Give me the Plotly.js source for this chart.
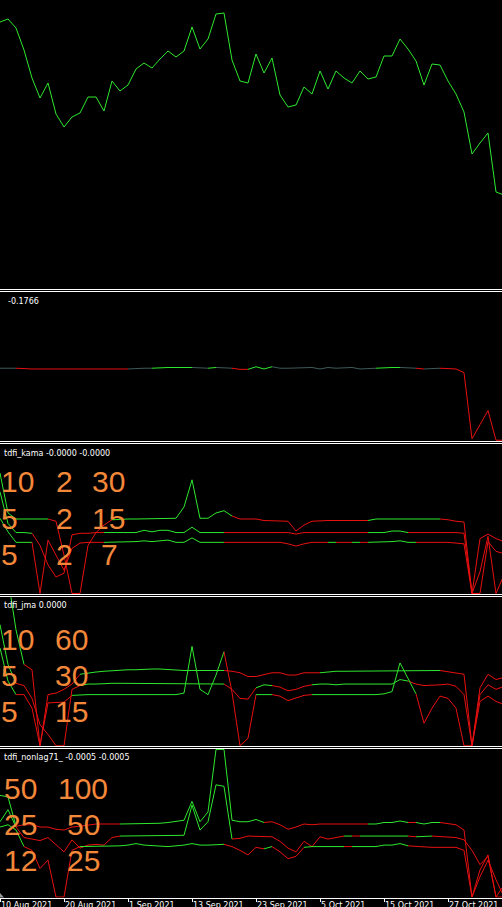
<!DOCTYPE html>
<html><head><meta charset="utf-8">
<script src="https://cdn.plot.ly/plotly-3.0.1.min.js"></script>
<style>html,body{margin:0;padding:0;background:#000;overflow:hidden}#chart{width:502px;height:907px}</style>
</head><body><div id="chart"></div>
<script>
// ---------- data ----------
const dateLabels = ["10 Aug 2021","20 Aug 2021","1 Sep 2021","13 Sep 2021","23 Sep 2021","5 Oct 2021","15 Oct 2021","27 Oct 2021"];
const dateBars = [0,8,16,24,32,40,48,56];

const price = [1.1778,1.1781,1.1772,1.1750,1.1722,1.1702,1.1717,1.1686,1.1673,1.1683,
  1.1687,1.1703,1.1703,1.1689,1.1719,1.1709,1.1715,1.1731,1.1737,1.1732,
  1.1741,1.1749,1.1743,1.1749,1.1773,1.1751,1.1761,1.1786,1.1787,1.1740,
  1.1719,1.1717,1.1746,1.1727,1.1742,1.1705,1.1693,1.1695,1.1713,1.1706,
  1.1729,1.1711,1.1729,1.1722,1.1717,1.1729,1.1721,1.1723,1.1744,1.1744,
  1.1761,1.1751,1.1739,1.1715,1.1736,1.1735,1.1719,1.1706,1.1688,1.1646,
  1.1657,1.1667,1.1608,1.1605];

const tdfi = [-0.02,-0.02,-0.02,-0.03,-0.03,-0.03,-0.03,-0.03,-0.03,-0.03,
  -0.03,-0.03,-0.03,-0.03,-0.03,-0.03,-0.03,-0.02,-0.02,-0.02,
  -0.01,-0.01,-0.01,-0.01,-0.01,-0.02,-0.02,-0.01,-0.02,-0.02,
  -0.035,-0.035,0.0,-0.03,0.0,-0.02,-0.02,-0.02,-0.02,-0.01,
  -0.03,-0.01,-0.02,-0.02,-0.01,-0.03,-0.02,-0.02,-0.01,-0.01,
  -0.01,-0.02,-0.02,-0.03,-0.02,-0.02,-0.03,-0.03,-0.08,-0.97,
  -0.78,-0.59,-0.99,-0.99];
const tdfiRuns = [[0,'n'],[3,'r'],[17,'n'],[20,'g'],[25,'n'],[27,'g'],[28,'n'],[30,'r'],[32,'g'],[35,'n'],[48,'g'],[51,'n'],[53,'r'],[54,'n'],[56,'r']];

const kamaA = [0.61,0.08,0,0,0,0,0,-0.03,-0.48,-0.99,
  -0.99,-0.35,-0.18,-0.08,-0.01,0,0,0,0,0,
  0,0.01,0.01,0.16,0.52,0.01,0.01,0.08,0.11,0.04,
  0,0,0,-0.02,-0.02,-0.02,-0.03,-0.16,-0.08,-0.03,
  -0.02,-0.02,-0.02,-0.02,-0.02,-0.02,-0.02,0,0,0,
  0,0,0,0,0,0,-0.01,-0.03,-0.04,-0.99,
  -0.26,-0.20,-0.26,-0.30];
const kamaB = [0.36,-0.06,-0.18,-0.18,-0.19,-0.35,-0.61,-0.77,-0.72,-0.21,
  -0.19,-0.19,-0.18,-0.18,-0.18,-0.18,-0.18,-0.18,-0.15,-0.17,
  -0.15,-0.15,-0.18,-0.18,-0.11,-0.18,-0.18,-0.18,-0.18,-0.18,
  -0.18,-0.18,-0.18,-0.18,-0.18,-0.18,-0.18,-0.20,-0.18,-0.18,
  -0.18,-0.18,-0.18,-0.18,-0.18,-0.18,-0.18,-0.18,-0.18,-0.16,
  -0.16,-0.18,-0.18,-0.18,-0.18,-0.18,-0.18,-0.18,-0.19,-0.99,
  -0.99,-0.30,-0.43,-0.46];
const kamaC = [0.01,-0.17,-0.31,-0.31,-0.31,-0.99,-0.28,-0.48,-0.68,-0.39,
  -0.32,-0.31,-0.31,-0.31,-0.31,-0.31,-0.31,-0.30,-0.29,-0.30,
  -0.29,-0.28,-0.31,-0.31,-0.25,-0.31,-0.31,-0.31,-0.31,-0.31,
  -0.31,-0.31,-0.31,-0.31,-0.31,-0.31,-0.33,-0.36,-0.33,-0.31,
  -0.31,-0.31,-0.31,-0.31,-0.31,-0.31,-0.31,-0.31,-0.31,-0.30,
  -0.29,-0.31,-0.31,-0.31,-0.31,-0.31,-0.31,-0.32,-0.33,-0.99,
  -0.70,-0.23,-0.99,-0.74];
const kamaARuns = [[0,'g'],[7,'r'],[15,'g'],[30,'r'],[47,'g'],[56,'r']];
const kamaBRuns = [[0,'g'],[5,'r'],[14,'g'],[29,'r'],[47,'g'],[52,'r']];
const kamaCRuns = [[0,'g'],[5,'r'],[14,'g'],[29,'r'],[42,'g'],[43,'r'],[45,'g'],[46,'r'],[47,'g'],[53,'r']];

const jmaA = [1.65,1.25,0.56,0.10,0.03,-0.98,-0.30,-0.28,-0.23,-0.16,
  -0.03,-0.01,0,0.01,0.02,0.02,0.03,0.03,0.04,0.04,
  0.04,0.03,0.03,0.02,0.02,0.02,0.02,0.02,0.02,0.01,
  -0.01,-0.06,-0.06,-0.04,-0.01,-0.01,-0.04,-0.04,-0.01,-0.01,
  -0.01,0,0.01,0.01,0.01,0.01,0.01,0.02,0.02,0.02,
  0.02,0.02,0.02,0.02,0.02,0.02,0,-0.01,-0.03,-0.98,
  -0.21,-0.03,-0.10,-0.07];
const jmaB = [0.63,0.10,-0.15,-0.18,-0.35,-0.70,-0.83,-0.98,-0.98,-0.23,
  -0.18,-0.16,-0.16,-0.15,-0.15,-0.15,-0.15,-0.15,-0.15,-0.15,
  -0.16,-0.16,-0.16,-0.16,-0.16,-0.16,-0.16,-0.16,-0.16,-0.23,
  -0.35,-0.36,-0.21,-0.17,-0.18,-0.20,-0.25,-0.23,-0.19,-0.17,
  -0.16,-0.16,-0.17,-0.16,-0.16,-0.16,-0.16,-0.16,-0.16,-0.16,
  -0.10,-0.12,-0.16,-0.18,-0.18,-0.17,-0.16,-0.19,-0.30,-0.98,
  -0.30,-0.17,-0.23,-0.19];
const jmaC = [0.32,-0.12,-0.30,-0.30,-0.48,-0.98,-0.41,-0.41,-0.40,-0.31,
  -0.30,-0.30,-0.30,-0.30,-0.30,-0.30,-0.30,-0.30,-0.30,-0.30,
  -0.30,-0.30,-0.30,-0.28,0.34,-0.23,-0.30,-0.04,0.27,-0.27,
  -0.98,-0.88,-0.30,-0.30,-0.30,-0.32,-0.38,-0.35,-0.31,-0.30,
  -0.30,-0.30,-0.30,-0.30,-0.30,-0.30,-0.30,-0.30,-0.29,-0.26,
  0.12,-0.08,-0.29,-0.68,-0.48,-0.32,-0.35,-0.48,-0.98,-0.98,
  -0.39,-0.32,-0.39,-0.43];
const jmaARuns = [[0,'g'],[4,'r'],[11,'g'],[29,'r'],[41,'g'],[56,'r']];
const jmaBRuns = [[0,'g'],[3,'r'],[11,'g'],[29,'r'],[33,'g'],[35,'r'],[40,'g'],[52,'r']];
const jmaCRuns = [[0,'g'],[3,'r'],[10,'g'],[29,'r'],[33,'g'],[35,'r'],[40,'g'],[53,'r']];

const nlA = [0.38,0.36,-0.03,-0.01,-0.01,-0.04,-0.04,-0.07,-0.08,-0.04,
  -0.03,-0.01,0,0,0,0,0,0,0.01,0.01,
  0.01,0.02,0.03,0.05,0.30,0.03,0.16,0.99,0.99,0.05,
  0.03,0.03,0.06,0.02,0.03,-0.01,-0.07,-0.04,0,-0.01,
  0,0,0,0,0,0,0,0,0.02,0.02,
  0.04,0.02,0.02,0,0.02,0.02,0,-0.01,-0.08,-0.97,
  -0.61,-0.41,-0.97,-0.81];
const nlB = [0.03,0.19,-0.04,-0.18,-0.20,-0.22,-0.18,-0.28,-0.37,-0.21,
  -0.32,-0.28,-0.27,-0.28,-0.18,-0.16,-0.16,-0.16,-0.16,-0.15,
  -0.15,-0.15,-0.15,-0.15,0.25,-0.08,0.03,0.52,0.50,-0.20,
  -0.19,-0.16,-0.16,-0.16,-0.17,-0.23,-0.32,-0.37,-0.23,-0.30,
  -0.17,-0.20,-0.18,-0.16,-0.16,-0.16,-0.16,-0.16,-0.15,-0.15,
  -0.16,-0.16,-0.17,-0.17,-0.16,-0.17,-0.18,-0.18,-0.21,-0.35,
  -0.54,-0.43,-0.97,-0.97];
const nlC = [-0.04,-0.01,-0.08,-0.30,-0.35,-0.59,-0.48,-0.97,-0.97,-0.35,
  -0.30,-0.30,-0.30,-0.30,-0.29,-0.29,-0.28,-0.26,-0.28,-0.29,
  -0.30,-0.30,-0.29,-0.28,-0.26,-0.28,-0.28,-0.27,-0.27,-0.30,
  -0.35,-0.41,-0.31,-0.33,-0.30,-0.37,-0.46,-0.43,-0.31,-0.30,
  -0.30,-0.30,-0.30,-0.30,-0.30,-0.30,-0.30,-0.30,-0.28,-0.28,
  -0.26,-0.29,-0.30,-0.31,-0.31,-0.31,-0.31,-0.31,-0.35,-0.97,
  -0.70,-0.48,-0.74,-0.97];
const nlARuns = [[0,'g'],[3,'r'],[16,'g'],[34,'r'],[47,'g'],[52,'r'],[53,'g'],[56,'r']];
const nlBRuns = [[0,'g'],[3,'r'],[16,'g'],[30,'r'],[44,'g'],[45,'r'],[46,'g'],[52,'r'],[53,'g'],[55,'r']];
const nlCRuns = [[0,'g'],[4,'r'],[11,'g'],[29,'r'],[34,'g'],[35,'r'],[39,'g'],[44,'r'],[45,'g'],[52,'r']];

const panelTitles = ["-0.1766", "tdfi_kama -0.0000 -0.0000", "tdfi_jma 0.0000", "tdfi_nonlag71_ -0.0005 -0.0005"];
const kamaParams = [["10","2","30"],["5","2","15"],["5","2","7"]];
const jmaParams = [["10","60"],["5","30"],["5","15"]];
const nlParams = [["50","100"],["25","50"],["12","25"]];

// ---------- layout helpers ----------
const W = 502, H = 907;
const px = v => v / W;
const py = v => 1 - v / H;
const dom = (t, b) => [py(b), py(t)];
const palette = {g:'#2ee82e', r:'#e81010', n:'#3f5a5a'};
const ORANGE = '#f4883a';

function coloredLine(vals, runs, yaxis) {
  const out = [];
  for (let k = 0; k < runs.length; k++) {
    const s = runs[k][0];
    const e = (k + 1 < runs.length ? runs[k + 1][0] : vals.length) - 1;
    const from = Math.max(0, s - 1);
    const xs = [], ys = [];
    for (let i = from; i <= e; i++) { xs.push(i); ys.push(vals[i]); }
    out.push({type:'scatter', mode:'lines', x:xs, y:ys, yaxis:yaxis,
      line:{color:palette[runs[k][1]], width:1}, hoverinfo:'skip', showlegend:false});
  }
  return out;
}

const traces = [];
traces.push({type:'scatter', mode:'lines', x:price.map((_, i) => i), y:price, yaxis:'y',
  line:{color:palette.g, width:1}, hoverinfo:'skip', showlegend:false});
traces.push(...coloredLine(tdfi, tdfiRuns, 'y2'));
traces.push(...coloredLine(kamaA, kamaARuns, 'y3'));
traces.push(...coloredLine(kamaB, kamaBRuns, 'y3'));
traces.push(...coloredLine(kamaC, kamaCRuns, 'y3'));
traces.push(...coloredLine(jmaA, jmaARuns, 'y4'));
traces.push(...coloredLine(jmaB, jmaBRuns, 'y4'));
traces.push(...coloredLine(jmaC, jmaCRuns, 'y4'));
traces.push(...coloredLine(nlA, nlARuns, 'y5'));
traces.push(...coloredLine(nlB, nlBRuns, 'y5'));
traces.push(...coloredLine(nlC, nlCRuns, 'y5'));

const hiddenY = (d, r) => ({domain:d, range:r, visible:false, fixedrange:true});

const shapes = [];
[289.5, 291.5, 441.5, 443.5, 594.5, 596.5, 746.5, 748.5].forEach(y => {
  shapes.push({type:'line', xref:'paper', yref:'paper', x0:0, x1:1, y0:py(y), y1:py(y),
    line:{color:'#ffffff', width:1}});
});
shapes.push({type:'path', xref:'paper', yref:'paper',
  path:`M 0 ${py(893)} L ${px(4)} ${py(897.5)} L 0 ${py(897.5)} Z`,
  fillcolor:'#9a9a9a', line:{width:0}});

const annotations = [];
const smallFont = {family:'DejaVu Sans', size:8, color:'#ffffff'};
[[6, 301.5], [2, 453.3], [2, 605.3], [2, 757.7]].forEach((p, k) => {
  annotations.push({xref:'paper', yref:'paper', x:px(p[0]), y:py(p[1]), xanchor:'left', yanchor:'middle',
    text:panelTitles[k], showarrow:false, font:smallFont});
});
const bigFont = {family:'Liberation Sans', size:30, color:ORANGE};
function addParams(rows, cols, centers) {
  rows.forEach((row, r) => {
    row.forEach((t, c) => {
      annotations.push({xref:'paper', yref:'paper', x:px(cols[r][c]), y:py(centers[r]), xanchor:'left', yanchor:'middle',
        text:t, showarrow:false, font:bigFont});
    });
  });
}
addParams(kamaParams, [[-1,54,90],[-1,54,90],[-1,54,99]], [481.7, 518, 554]);
addParams(jmaParams, [[-1,53],[-1,53],[-1,53]], [639, 675, 711]);
addParams(nlParams, [[2,56],[2,65],[2,65]], [788.5, 824, 860.3]);

const layout = {
  width:W, height:H, margin:{l:0, r:0, t:0, b:0},
  paper_bgcolor:'#000000', plot_bgcolor:'#000000',
  showlegend:false,
  xaxis:{domain:[0,1], anchor:'y5', range:[0, 62.75], showgrid:false, zeroline:false,
    showline:true, linecolor:'#ffffff', linewidth:1,
    ticks:'outside', ticklen:3, tickcolor:'#ffffff', tickwidth:1,
    tickvals:dateBars, ticktext:dateLabels, ticklabelposition:'outside right',
    tickfont:{family:'DejaVu Sans', size:8, color:'#ffffff'}, fixedrange:true},
  yaxis:hiddenY(dom(0, 289), [1.1511, 1.1800]),
  yaxis2:hiddenY(dom(292.5, 441), [-1, 1]),
  yaxis3:hiddenY(dom(444, 594), [-0.996, 0.996]),
  yaxis4:hiddenY(dom(597, 746.5), [-0.989, 0.996]),
  yaxis5:hiddenY(dom(749, 897.5), [-0.976, 0.996]),
  shapes:shapes,
  annotations:annotations
};

Plotly.newPlot('chart', traces, layout, {staticPlot:true, displayModeBar:false});
</script>
</body></html>
